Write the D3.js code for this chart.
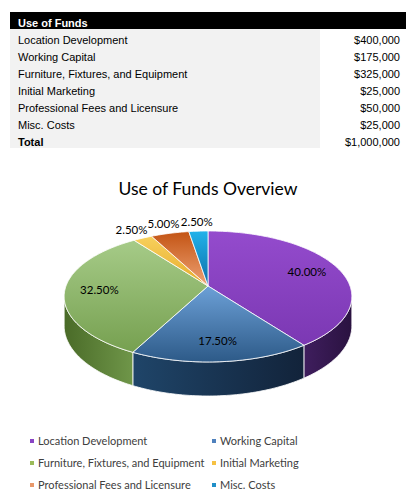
<!DOCTYPE html>
<html lang="en">
<head>
    <meta charset="UTF-8">
    <title>Use of Funds</title>
    <style>
        body {
            margin: 0;
            background-color: #ffffff;
        }
        svg {
            display: block;
        }
        .tbl {
            font-family: "Liberation Sans", Arial, sans-serif;
            font-size: 11px;
        }
        .chart {
            font-family: Lato, "Open Sans", sans-serif;
        }
    </style>
    <script src="https://d3js.org/d3.v7.min.js"></script>
</head>
<body>
    <svg width="419" height="502"></svg>

    <script>
        // дані таблиці та діаграми
        const categories = [
            "Location Development",
            "Working Capital",
            "Furniture, Fixtures, and Equipment",
            "Initial Marketing",
            "Professional Fees and Licensure",
            "Misc. Costs"
        ];
        const amounts = [400000, 175000, 325000, 25000, 50000, 25000];
        const tableTitle = "Use of Funds";
        const totalLabel = "Total";
        const chartTitle = "Use of Funds Overview";

        // кольори (верх, низ) для верхньої грані та боковини
        const topColors = [
            ["#944bcd", "#7b38b3"],
            ["#6ca0d7", "#2d5a88"],
            ["#a6cb88", "#76a050"],
            ["#f7d05c", "#e6ab2c"],
            ["#c35414", "#eea274"],
            ["#22b2ea", "#0b6ea8"]
        ];
        const sideColors = [
            ["#3f1e5e", "#2a1240"],
            ["#1f4569", "#12233a"],
            ["#4a6b28", "#6f9649"],
            ["#b88a20", "#9a7015"],
            ["#9a4a18", "#7a3510"],
            ["#0b5a88", "#08466a"]
        ];
        const legendColors = ["#8a45c4", "#4f81bd", "#9bbb59", "#f6c142", "#e8986a", "#1f8fc8"];

        const svg = d3.select("svg");
        const fmt = d3.format("$,");
        const total = d3.sum(amounts);

        // ---------- таблиця ----------
        const tbl = svg.append("g").attr("class", "tbl");
        const rowY = d3.scaleBand()
            .domain(d3.range(categories.length + 2))
            .range([12, 12 + 17 * (categories.length + 2)]);

        tbl.append("rect")
            .attr("x", 10).attr("y", rowY(0))
            .attr("width", 396).attr("height", rowY.bandwidth())
            .style("fill", "#000");
        tbl.append("rect")
            .attr("x", 10).attr("y", rowY(1))
            .attr("width", 310).attr("height", rowY.bandwidth() * (categories.length + 1))
            .style("fill", "#f2f2f2");
        tbl.append("text")
            .attr("x", 18).attr("y", rowY(0) + rowY.bandwidth() / 2 + 6.5)
            .style("fill", "#fff").style("font-weight", "bold")
            .text(tableTitle);

        const rows = categories.map((c, i) => ({ label: c, value: amounts[i], bold: false }));
        rows.push({ label: totalLabel, value: total, bold: true });

        rows.forEach((r, i) => {
            const y = rowY(i + 1) + rowY.bandwidth() / 2 + 6.5;
            tbl.append("text")
                .attr("x", 18).attr("y", y)
                .style("fill", "#000")
                .style("font-weight", r.bold ? "bold" : "normal")
                .text(r.label);
            tbl.append("text")
                .attr("x", 400).attr("y", y)
                .attr("text-anchor", "end")
                .style("fill", "#000")
                .text(fmt(r.value));
        });

        // ---------- 3D діаграма ----------
        const chart = svg.append("g").attr("class", "chart");

        chart.append("text")
            .attr("x", 208).attr("y", 195)
            .attr("text-anchor", "middle")
            .style("font-size", "17.5px")
            .style("fill", "#000")
            .text(chartTitle);

        const cx = 208, cy = 286, RX = 142, RY = 63.8, K = 0.16, D = 28.6;

        // перспективна проекція точки диска (кут від 12 години за годинниковою)
        function proj(theta, r, down) {
            const a = r * Math.sin(theta), b = -r * Math.cos(theta);
            const w = 1 - K * b;
            return [cx + RX * a / w, cy + RY * b / w + (down ? D / w : 0)];
        }

        function arcPts(t0, t1, r, down) {
            const n = Math.max(2, Math.ceil(Math.abs(t1 - t0) / 0.02));
            return d3.range(n + 1).map(i => proj(t0 + (t1 - t0) * i / n, r, down));
        }

        const pie = d3.pie().sort(null).startAngle(0).endAngle(2 * Math.PI);
        const slices = pie(amounts);

        const defs = svg.append("defs");
        slices.forEach((s, i) => {
            const gt = defs.append("linearGradient")
                .attr("id", "top" + i)
                .attr("x1", 0).attr("y1", 0).attr("x2", 0).attr("y2", 1);
            gt.append("stop").attr("offset", "0%").attr("stop-color", topColors[i][0]);
            gt.append("stop").attr("offset", "100%").attr("stop-color", topColors[i][1]);
            const gs = defs.append("linearGradient")
                .attr("id", "side" + i)
                .attr("x1", 0).attr("y1", 0).attr("x2", 1).attr("y2", 0);
            gs.append("stop").attr("offset", "0%").attr("stop-color", sideColors[i][0]);
            gs.append("stop").attr("offset", "100%").attr("stop-color", sideColors[i][1]);
        });

        // видима частина боковини: там, де b >= K
        const vs = Math.acos(-K), ve = 2 * Math.PI - Math.acos(-K);
        const line = d3.line();

        slices.forEach((s, i) => {
            const t0 = Math.max(s.startAngle, vs), t1 = Math.min(s.endAngle, ve);
            if (t1 <= t0) return;
            const pts = arcPts(t0, t1, 1, false).concat(arcPts(t1, t0, 1, true));
            chart.append("path")
                .attr("d", line(pts) + "Z")
                .style("fill", "url(#side" + i + ")")
                .style("stroke", "#ffffff")
                .style("stroke-width", 0.8)
                .style("stroke-linejoin", "round");
        });

        slices.forEach((s, i) => {
            const pts = [proj(0, 0, false)].concat(arcPts(s.startAngle, s.endAngle, 1, false));
            chart.append("path")
                .attr("d", line(pts) + "Z")
                .style("fill", "url(#top" + i + ")")
                .style("stroke", "#ffffff")
                .style("stroke-width", 0.8)
                .style("stroke-linejoin", "round");
        });

        // підписи відсотків
        const pctFmt = d3.format(".2%");
        slices.forEach((s, i) => {
            const share = s.value / total;
            const mid = (s.startAngle + s.endAngle) / 2;
            const p = proj(mid, share < 0.1 ? 1.2 : 0.76, false);
            chart.append("text")
                .attr("x", p[0]).attr("y", p[1] + 4)
                .attr("text-anchor", "middle")
                .style("font-size", "11.5px")
                .style("fill", "#000")
                .text(pctFmt(share));
        });

        // легенда
        const legX = [32, 214], legY = [441, 463, 485];
        categories.forEach((c, i) => {
            const x = legX[i % 2], y = legY[Math.floor(i / 2)];
            chart.append("rect")
                .attr("x", x - 2).attr("y", y - 2)
                .attr("width", 4).attr("height", 4)
                .style("fill", legendColors[i]);
            chart.append("text")
                .attr("x", x + 6).attr("y", y + 4)
                .style("font-size", "11px")
                .style("fill", "#404040")
                .text(c);
        });
    </script>
</body>
</html>
